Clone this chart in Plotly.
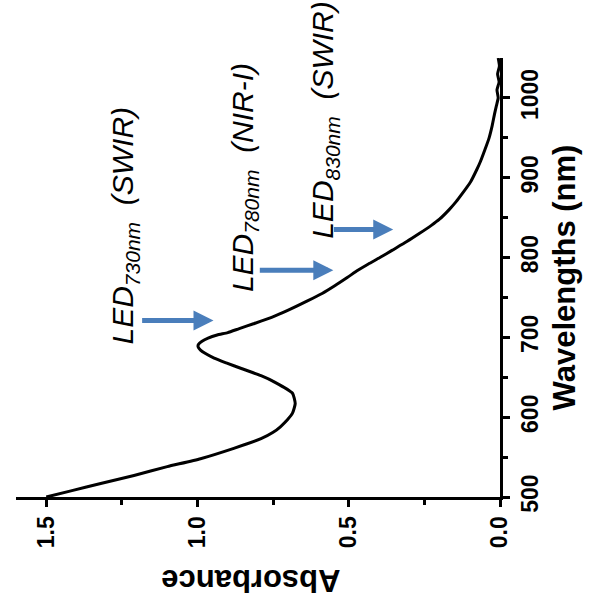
import plotly.graph_objects as go

# Spectrum read from the (rotated) reference
wavelength = [500, 508, 517, 527, 538, 548, 561, 573, 581, 588, 597, 605, 617, 630,
              644, 652, 661, 668, 674, 680, 684, 688, 691, 695, 699, 703, 706, 711,
              717, 725, 734, 745, 755, 765, 775, 784, 792, 800, 809, 820, 830, 840,
              848, 860, 870, 880, 895, 910, 920, 935, 950, 965, 980, 990, 1000, 1010,
              1020, 1030, 1040, 1050]
absorbance = [1.50, 1.415, 1.32, 1.21, 1.10, 0.99, 0.88, 0.79, 0.75, 0.726, 0.702, 0.686,
              0.677, 0.686, 0.745, 0.79, 0.855, 0.905, 0.945, 0.975, 0.99, 0.998, 0.997,
              0.985, 0.965, 0.935, 0.90, 0.862, 0.815, 0.755, 0.70, 0.64, 0.588, 0.545,
              0.505, 0.47, 0.435, 0.397, 0.357, 0.308, 0.267, 0.228, 0.20, 0.168, 0.145,
              0.125, 0.097, 0.077, 0.065, 0.05, 0.036, 0.026, 0.018, 0.012, 0.006, 0.01,
              0.003, 0.008, 0.002, 0.006]

abs_ticks = [0.0, 0.5, 1.0, 1.5]
wl_ticks = [500, 600, 700, 800, 900, 1000]

# LED labels: (text, absorbance centre, wavelength centre)
led_labels = ["<i>LED<sub>730nm</sub>  (SWIR)</i>",
              "<i>LED<sub>780nm</sub>  (NIR-I)</i>",
              "<i>LED<sub>830nm</sub>  (SWIR)</i>"]
label_abs = [1.24, 0.845, 0.58]
label_wl = [840, 900, 972]

# arrows: tail absorbance, head absorbance, wavelength
arrow_tail = [1.188, 0.799, 0.554]
arrow_head = [0.947, 0.551, 0.353]
arrow_wl = [721, 784, 835]

FONT = "Arial, Liberation Sans, sans-serif"

fig = go.Figure()
fig.add_trace(go.Scatter(x=absorbance, y=wavelength, mode="lines",
                         line=dict(color="black", width=3, shape="spline", smoothing=0.5),
                         showlegend=False, hoverinfo="skip"))

ann = []
for t, a, w in zip(led_labels, label_abs, label_wl):
    ann.append(dict(x=a, y=w, xref="x", yref="y", text=t, showarrow=False,
                    textangle=-90, font=dict(family=FONT, size=30, color="black")))
for ta, ha, w in zip(arrow_tail, arrow_head, arrow_wl):
    ann.append(dict(x=ha, y=w, ax=ta, ay=w, xref="x", yref="y", axref="x", ayref="y",
                    text="", showarrow=True, arrowhead=2, arrowsize=0.8, arrowwidth=5,
                    arrowcolor="#4A7EBB"))
ann.append(dict(x=0.486, y=-0.19, xref="paper", yref="paper", text="<b>Absorbance</b>",
                showarrow=False, textangle=180, yanchor="middle",
                font=dict(family=FONT, size=31, color="black")))

fig.update_layout(
    width=596, height=607,
    margin=dict(l=16, r=96, t=58, b=110),
    paper_bgcolor="white", plot_bgcolor="white",
    annotations=ann,
    xaxis=dict(range=[1.6, 0], tickvals=abs_ticks, ticktext=[f"{v:.1f}" for v in abs_ticks],
               tickangle=-90, showline=True, linewidth=3, linecolor="black",
               ticks="outside", ticklen=7, tickwidth=3, tickcolor="black",
               minor=dict(tickvals=[0.25, 0.75, 1.25], ticks="outside", ticklen=5,
                          tickwidth=3, tickcolor="black"),
               showgrid=False, zeroline=False,
               tickfont=dict(family=FONT, size=23, color="black", weight="bold")),
    yaxis=dict(range=[500, 1050], side="right", tickvals=wl_ticks, tickangle=-90,
               showline=True, linewidth=3, linecolor="black",
               ticks="outside", ticklen=7, tickwidth=3, tickcolor="black",
               minor=dict(tickvals=[550, 650, 750, 850, 950], ticks="outside", ticklen=5,
                          tickwidth=3, tickcolor="black"),
               showgrid=False, zeroline=False,
               tickfont=dict(family=FONT, size=23, color="black", weight="bold"),
               title=dict(text="<b>Wavelengths (nm)</b>", standoff=12,
                          font=dict(family=FONT, size=31, color="black"))),
)

fig.write_html("out.html")
